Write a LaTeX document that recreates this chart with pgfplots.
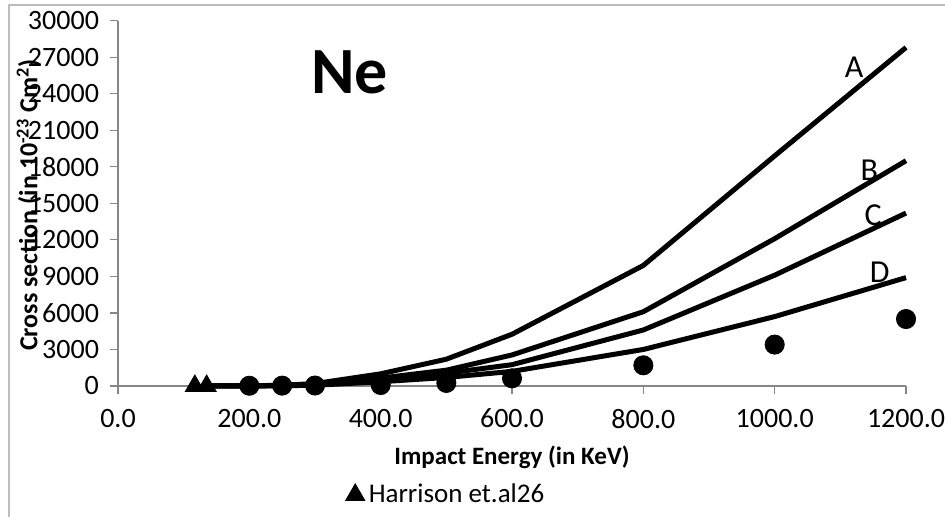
\documentclass[border=0pt]{standalone}
\usepackage{fontspec}
\setmainfont{Carlito}
\usepackage{pgfplots}
\pgfplotsset{compat=1.18}
\definecolor{axisgray}{HTML}{868686}
\definecolor{framegray}{HTML}{BDBDBD}
\begin{document}
\begin{tikzpicture}[x=1pt,y=1pt]
\useasboundingbox (0,0) rectangle (472.5,258.5);
\draw[framegray, line width=0.7pt] (4.5,-1) -- (4.5,256) -- (474,256);
\begin{axis}[
  at={(59pt,65.5pt)}, anchor=south west,
  scale only axis, width=394pt, height=182.65pt,
  xmin=0, xmax=1200, ymin=0, ymax=30000,
  axis x line=bottom, axis y line=left,
  axis line style={-, draw=axisgray, line width=0.6pt},
  xtick={0,200,...,1200}, ytick={0,3000,...,30000},
  tick align=outside, major tick length=4pt,
  tick style={axisgray, line width=0.6pt},
  scaled ticks=false,
  /pgf/number format/assume math mode=true,
  xticklabel style={yshift=-4pt, /pgf/number format/.cd, fixed, fixed zerofill, precision=1, 1000 sep={}},
  yticklabel style={xshift=-2pt, /pgf/number format/.cd, fixed, 1000 sep={}},
  ticklabel style={font=\fontsize{14}{16}\selectfont},
  xlabel={Impact Energy (in KeV)},
  xlabel style={at={(axis description cs:0.5,-0.195)}, anchor=center, font=\bfseries\fontsize{12.5}{14}\selectfont},
  ylabel={Cross section (in 10\textsuperscript{-23} Cm\textsuperscript{2})},
  ylabel style={at={(axis description cs:-0.113,0.495)}, anchor=center, rotate=0, font=\bfseries\fontsize{13}{15}\selectfont},
  legend style={at={(axis description cs:0.4175,-0.298)}, anchor=center, draw=none, fill=none,
    font=\fontsize{13.5}{15}\selectfont, inner sep=0pt},
  legend image code/.code={\draw[#1] plot coordinates {(0pt,0pt)};},
  clip=false,
]
% theory curves
\addplot[black, line width=2.5pt, line join=round, no marks, forget plot] coordinates {
 (135,0) (200,20) (250,60) (300,200) (400,1000) (500,2200) (600,4250) (800,9900) (1000,18900) (1200,27800)};
\addplot[black, line width=2.5pt, line join=round, no marks, forget plot] coordinates {
 (135,0) (200,10) (250,40) (300,130) (400,650) (500,1300) (600,2550) (800,6100) (1000,12100) (1200,18500)};
\addplot[black, line width=2.5pt, line join=round, no marks, forget plot] coordinates {
 (135,0) (200,10) (250,30) (300,100) (400,500) (500,1050) (600,1750) (800,4600) (1000,9100) (1200,14200)};
\addplot[black, line width=2.5pt, line join=round, no marks, forget plot] coordinates {
 (135,0) (200,5) (250,20) (300,60) (400,350) (500,700) (600,1200) (800,3000) (1000,5700) (1200,8900)};
% experimental circles
\addplot[only marks, mark=*, mark size=4.8pt, black, forget plot] coordinates {
 (200,20) (250,30) (300,40) (400,80) (500,250) (600,630) (800,1700) (1000,3400) (1200,5500)};
% Harrison triangles
\addplot[only marks, mark=triangle*, mark size=5.5pt, black] coordinates {(117,0) (135,0)};
\addlegendentry{Harrison et.al26}
\node[font=\bfseries\fontsize{33}{36}\selectfont] at (axis cs:353,25780) {Ne};
\node[font=\fontsize{16}{18}\selectfont] at (axis cs:1121,26150) {A};
\node[font=\fontsize{16}{18}\selectfont] at (axis cs:1144,17730) {B};
\node[font=\fontsize{16}{18}\selectfont] at (axis cs:1150,14040) {C};
\node[font=\fontsize{16}{18}\selectfont] at (axis cs:1160,9360) {D};
\end{axis}
\end{tikzpicture}
\end{document}
